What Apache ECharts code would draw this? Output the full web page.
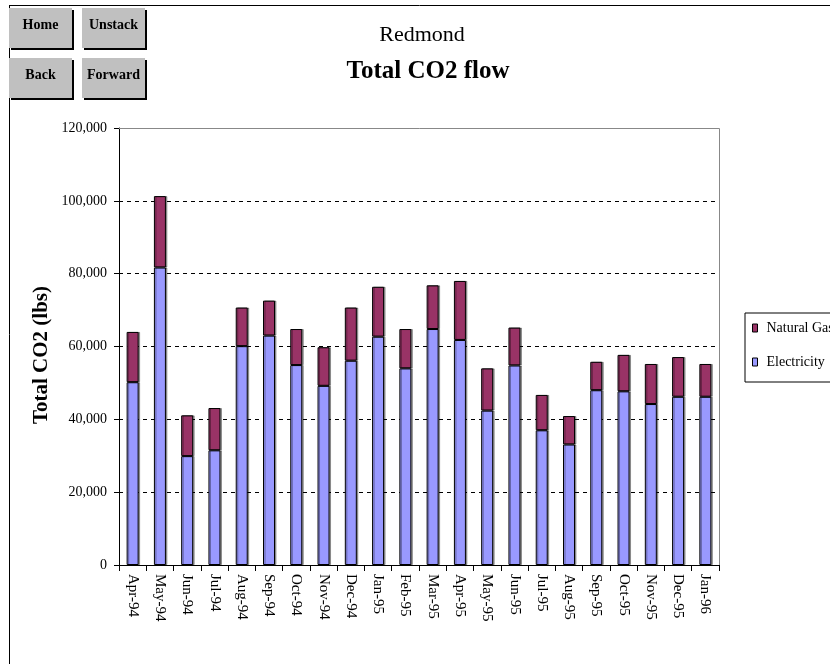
<!DOCTYPE html>
<html>
<head>
<meta charset="utf-8">
<script src="https://cdn.jsdelivr.net/npm/echarts@6/dist/echarts.min.js"></script>
<style>
html,body{margin:0;padding:0;background:#fff;}
#chart{width:830px;height:664px;}
</style>
</head>
<body>
<div id="chart"></div>
<script>
const categories = ['Apr-94','May-94','Jun-94','Jul-94','Aug-94','Sep-94','Oct-94','Nov-94','Dec-94','Jan-95','Feb-95','Mar-95','Apr-95','May-95','Jun-95','Jul-95','Aug-95','Sep-95','Oct-95','Nov-95','Dec-95','Jan-96'];
const electricity = [50200,81700,29900,31500,60100,63000,54900,49200,56100,62700,54000,64800,61800,42400,54800,37000,33100,48000,47700,44200,46200,46200];
const naturalGas  = [13800,19600,11200,11600,10600,9600,9900,10600,14600,13700,10800,12000,16200,11600,10400,9700,7800,7800,10000,11000,10900,9000];
const yTicks = [0,20000,40000,60000,80000,100000,120000];

const serif = '"Liberation Serif","DejaVu Serif",serif';
const chart = echarts.init(document.getElementById('chart'));

function button(x, y, w, h, label) {
  return [
    {type:'rect', shape:{x:x+2, y:y+2, width:w, height:h}, style:{fill:'#000'}, z:10},
    {type:'rect', shape:{x:x, y:y, width:w, height:h}, style:{fill:'#c0c0c0'}, z:11},
    {type:'text', x:x + w/2, y:y + h/2 - 3, style:{text:label, font:'bold 14px ' + serif, fill:'#000', align:'center', verticalAlign:'middle'}, z:12}
  ];
}

const graphics = [
  {type:'line', shape:{x1:9, y1:5.5, x2:830, y2:5.5}, style:{stroke:'#000', lineWidth:1}, z:5},
  {type:'line', shape:{x1:9.5, y1:5, x2:9.5, y2:664}, style:{stroke:'#000', lineWidth:1}, z:5},
  ...button(9, 8, 63, 40, 'Home'),
  ...button(82, 8, 63, 40, 'Unstack'),
  ...button(9, 58, 63, 40, 'Back'),
  ...button(82, 58, 63, 40, 'Forward'),
  {type:'text', x:422, y:35, style:{text:'Redmond', font:'22px ' + serif, fill:'#000', align:'center', verticalAlign:'middle'}, z:12},
  {type:'text', x:428, y:72, style:{text:'Total CO2 flow', font:'bold 25px ' + serif, fill:'#000', align:'center', verticalAlign:'middle'}, z:12},
  {type:'text', x:42, y:355, rotation:Math.PI/2, style:{text:'Total CO2 (lbs)', font:'bold 21px ' + serif, fill:'#000', align:'center', verticalAlign:'middle'}, z:12},
  {type:'line', shape:{x1:119, y1:128.5, x2:719.5, y2:128.5}, style:{stroke:'#888', lineWidth:1}, z:3},
  {type:'line', shape:{x1:719.5, y1:128.5, x2:719.5, y2:565}, style:{stroke:'#888', lineWidth:1}, z:3}
];

const barStyleCommon = {borderColor:'#000', borderWidth:1, shadowColor:'rgba(0,0,0,0.35)', shadowOffsetX:1.5, shadowOffsetY:0, shadowBlur:0};

chart.setOption({
  animation:false,
  backgroundColor:'#fff',
  grid:{left:119, right:111, top:128, bottom:99, containLabel:false},
  legend:{
    orient:'vertical', left:745, top:313,
    data:[{name:'Natural Gas', itemStyle:{color:'#993366', borderColor:'#000', borderWidth:1}},
          {name:'Electricity', itemStyle:{color:'#9999ff', borderColor:'#000', borderWidth:1}}],
    icon:'rect', itemWidth:5, itemHeight:8, itemGap:20,
    padding:[8,10,13,7],
    borderColor:'#000', borderWidth:1,
    textStyle:{fontFamily:serif, fontSize:14, color:'#000', padding:[0,0,0,4], lineHeight:14}
  },
  xAxis:{
    type:'category', data:categories,
    axisLine:{lineStyle:{color:'#000', width:1}},
    axisTick:{show:true, alignWithLabel:false, length:6, lineStyle:{color:'#000'}},
    axisLabel:{rotate:-90, margin:9, fontFamily:serif, fontSize:15, color:'#000', interval:0}
  },
  yAxis:{
    type:'value', min:0, max:120000, interval:20000,
    axisLine:{show:true, lineStyle:{color:'#000', width:1}},
    axisTick:{show:true, length:5, lineStyle:{color:'#000'}},
    axisLabel:{margin:12, fontFamily:serif, fontSize:14, color:'#000',
      formatter:function(v){ return yTicks.indexOf(v) >= 0 ? v.toLocaleString('en-US') : ''; }},
    splitLine:{show:true, lineStyle:{color:'#000', type:[4,4], width:1}}
  },
  series:[
    {name:'Electricity', type:'bar', stack:'co2', data:electricity, barWidth:12,
     itemStyle:Object.assign({color:'#9999ff'}, barStyleCommon)},
    {name:'Natural Gas', type:'bar', stack:'co2', data:naturalGas, barWidth:12,
     itemStyle:Object.assign({color:'#993366'}, barStyleCommon)}
  ],
  graphic:graphics
});
</script>
</body>
</html>
